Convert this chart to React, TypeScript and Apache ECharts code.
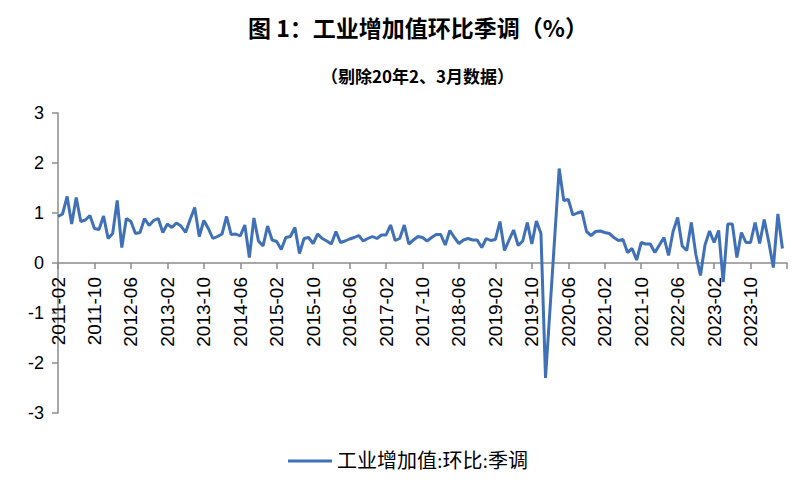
import React, { useEffect, useRef } from "react";
import * as echarts from "echarts";

const TITLE = "图 1：工业增加值环比季调（%）";
const SUBTITLE = "（剔除20年2、3月数据）";
const SERIES_NAME = "工业增加值:环比:季调";

// Monthly categories 2011-02 .. 2024-06 (last one is axis end only)
const START_YEAR = 2011;
const START_MONTH = 2;
const MONTH_COUNT = 161;
const categories: string[] = [];
for (let k = 0; k < MONTH_COUNT; k++) {
  const m = START_MONTH - 1 + k;
  const y = START_YEAR + Math.floor(m / 12);
  const mm = (m % 12) + 1;
  categories.push(`${y}-${mm < 10 ? "0" + mm : mm}`);
}

// 2011-02 .. 2015-07
const values2011_2015: (number | null)[] = [
  0.93, 0.98, 1.33, 0.78, 1.31, 0.83, 0.86, 0.95, 0.69, 0.67, 0.94,
  0.49, 0.59, 1.25, 0.31, 0.89, 0.83, 0.59, 0.61, 0.89, 0.75, 0.85,
  0.89, 0.61, 0.78, 0.71, 0.8, 0.74, 0.61, 0.87, 1.11, 0.53, 0.85,
  0.69, 0.49, 0.53, 0.58, 0.93, 0.57, 0.58, 0.54, 0.76, 0.11, 0.9,
  0.44, 0.34, 0.74, 0.46, 0.43, 0.27, 0.51, 0.53, 0.71, 0.19,
];
// 2015-08 .. 2019-12
const values2015_2019: (number | null)[] = [
  0.49, 0.51, 0.39, 0.58, 0.49, 0.44, 0.38, 0.63, 0.41, 0.44, 0.48,
  0.51, 0.55, 0.44, 0.49, 0.53, 0.49, 0.56, 0.56, 0.76, 0.45, 0.49,
  0.76, 0.38, 0.46, 0.53, 0.51, 0.44, 0.51, 0.57, 0.57, 0.36, 0.65,
  0.51, 0.39, 0.46, 0.49, 0.46, 0.46, 0.31, 0.49, 0.45, 0.47, 0.83,
  0.25, 0.46, 0.66, 0.35, 0.44, 0.81, 0.38, 0.84, 0.59,
];
// 2020-01 .. 2024-05 (2020-02 and 2020-03 removed)
const values2020_2024: (number | null)[] = [
  -2.3, null, null, 1.89, 1.25, 1.27, 0.96, 1.0, 1.03, 0.63, 0.55,
  0.63, 0.64, 0.61, 0.59, 0.51, 0.45, 0.47, 0.21, 0.29, 0.06, 0.41,
  0.38, 0.38, 0.21, 0.36, 0.51, 0.15, 0.63, 0.91, 0.34, 0.25, 0.81,
  0.17, -0.25, 0.36, 0.64, 0.41, 0.65, -0.38, 0.78, 0.78, 0.11, 0.61,
  0.41, 0.41, 0.81, 0.39, 0.87, 0.42, -0.09, 0.98, 0.29,
];
const values = [...values2011_2015, ...values2015_2019, ...values2020_2024];

const Y_MIN = -3;
const Y_MAX = 3;
const Y_STEP = 1;
const LABEL_STEP = 8;

const GRID_TOP = 113;
const GRID_BOTTOM = 67;
const CHART_H = 480;

export default function App() {
  const ref = useRef<HTMLDivElement>(null);
  useEffect(() => {
    if (!ref.current) return;
    const chart = echarts.init(ref.current, null, { renderer: "svg" });
    const axisColor = "#8c8c8c";
    const plotH = CHART_H - GRID_TOP - GRID_BOTTOM;
    // shift the category axis from the bottom edge up to where value 0 sits
    const zeroOffset = -plotH * ((0 - Y_MIN) / (Y_MAX - Y_MIN));
    chart.setOption({
      animation: false,
      backgroundColor: "#ffffff",
      title: [
        {
          text: TITLE,
          left: 243,
          top: 10,
          textStyle: {
            fontSize: 23,
            fontWeight: "bold",
            color: "#000",
            fontFamily: "'Noto Sans CJK SC', sans-serif",
          },
        },
        {
          text: SUBTITLE,
          left: 316,
          top: 62,
          textStyle: {
            fontSize: 17,
            fontWeight: "bold",
            color: "#000",
            fontFamily: "'Noto Sans CJK SC', sans-serif",
          },
        },
      ],
      legend: {
        left: 283,
        top: 446,
        icon: "rect",
        itemWidth: 44,
        itemHeight: 3,
        itemGap: 4,
        textStyle: {
          fontSize: 20,
          color: "#000",
          fontFamily: "'Liberation Serif', 'Noto Sans CJK SC', serif",
        },
        data: [SERIES_NAME],
      },
      grid: {
        left: 58,
        right: 13,
        top: GRID_TOP,
        bottom: GRID_BOTTOM,
        containLabel: false,
        outerBoundsMode: "none",
      },
      xAxis: {
        type: "category",
        data: categories,
        boundaryGap: false,
        position: "bottom",
        offset: zeroOffset,
        axisLine: {
          onZero: false,
          lineStyle: { color: axisColor, width: 1.5 },
        },
        axisTick: {
          interval: (i: number) => i % LABEL_STEP === 0,
          length: 6,
          lineStyle: { color: axisColor, width: 1.5 },
        },
        axisLabel: {
          interval: (i: number) => i % LABEL_STEP === 0 && i < MONTH_COUNT - 1,
          rotate: 90,
          margin: 14,
          fontSize: 19,
          color: "#000",
          fontFamily: "'Liberation Sans', Arial, sans-serif",
        },
        splitLine: { show: false },
      },
      yAxis: {
        type: "value",
        min: Y_MIN,
        max: Y_MAX,
        interval: Y_STEP,
        axisLine: { show: true, lineStyle: { color: axisColor, width: 1.5 } },
        axisTick: { show: true, length: 6, lineStyle: { color: axisColor, width: 1.5 } },
        axisLabel: {
          margin: 14,
          fontSize: 18,
          color: "#000",
          fontFamily: "'Liberation Sans', Arial, sans-serif",
        },
        splitLine: { show: false },
      },
      series: [
        {
          name: SERIES_NAME,
          type: "line",
          data: values,
          connectNulls: true,
          showSymbol: false,
          symbol: "none",
          lineStyle: { color: "#3f70b8", width: 3 },
          itemStyle: { color: "#3f70b8" },
        },
      ],
    });
    return () => chart.dispose();
  }, []);
  return <div ref={ref} style={{ width: 800, height: 480, position: "absolute", left: 0, top: 0 }} />;
}
